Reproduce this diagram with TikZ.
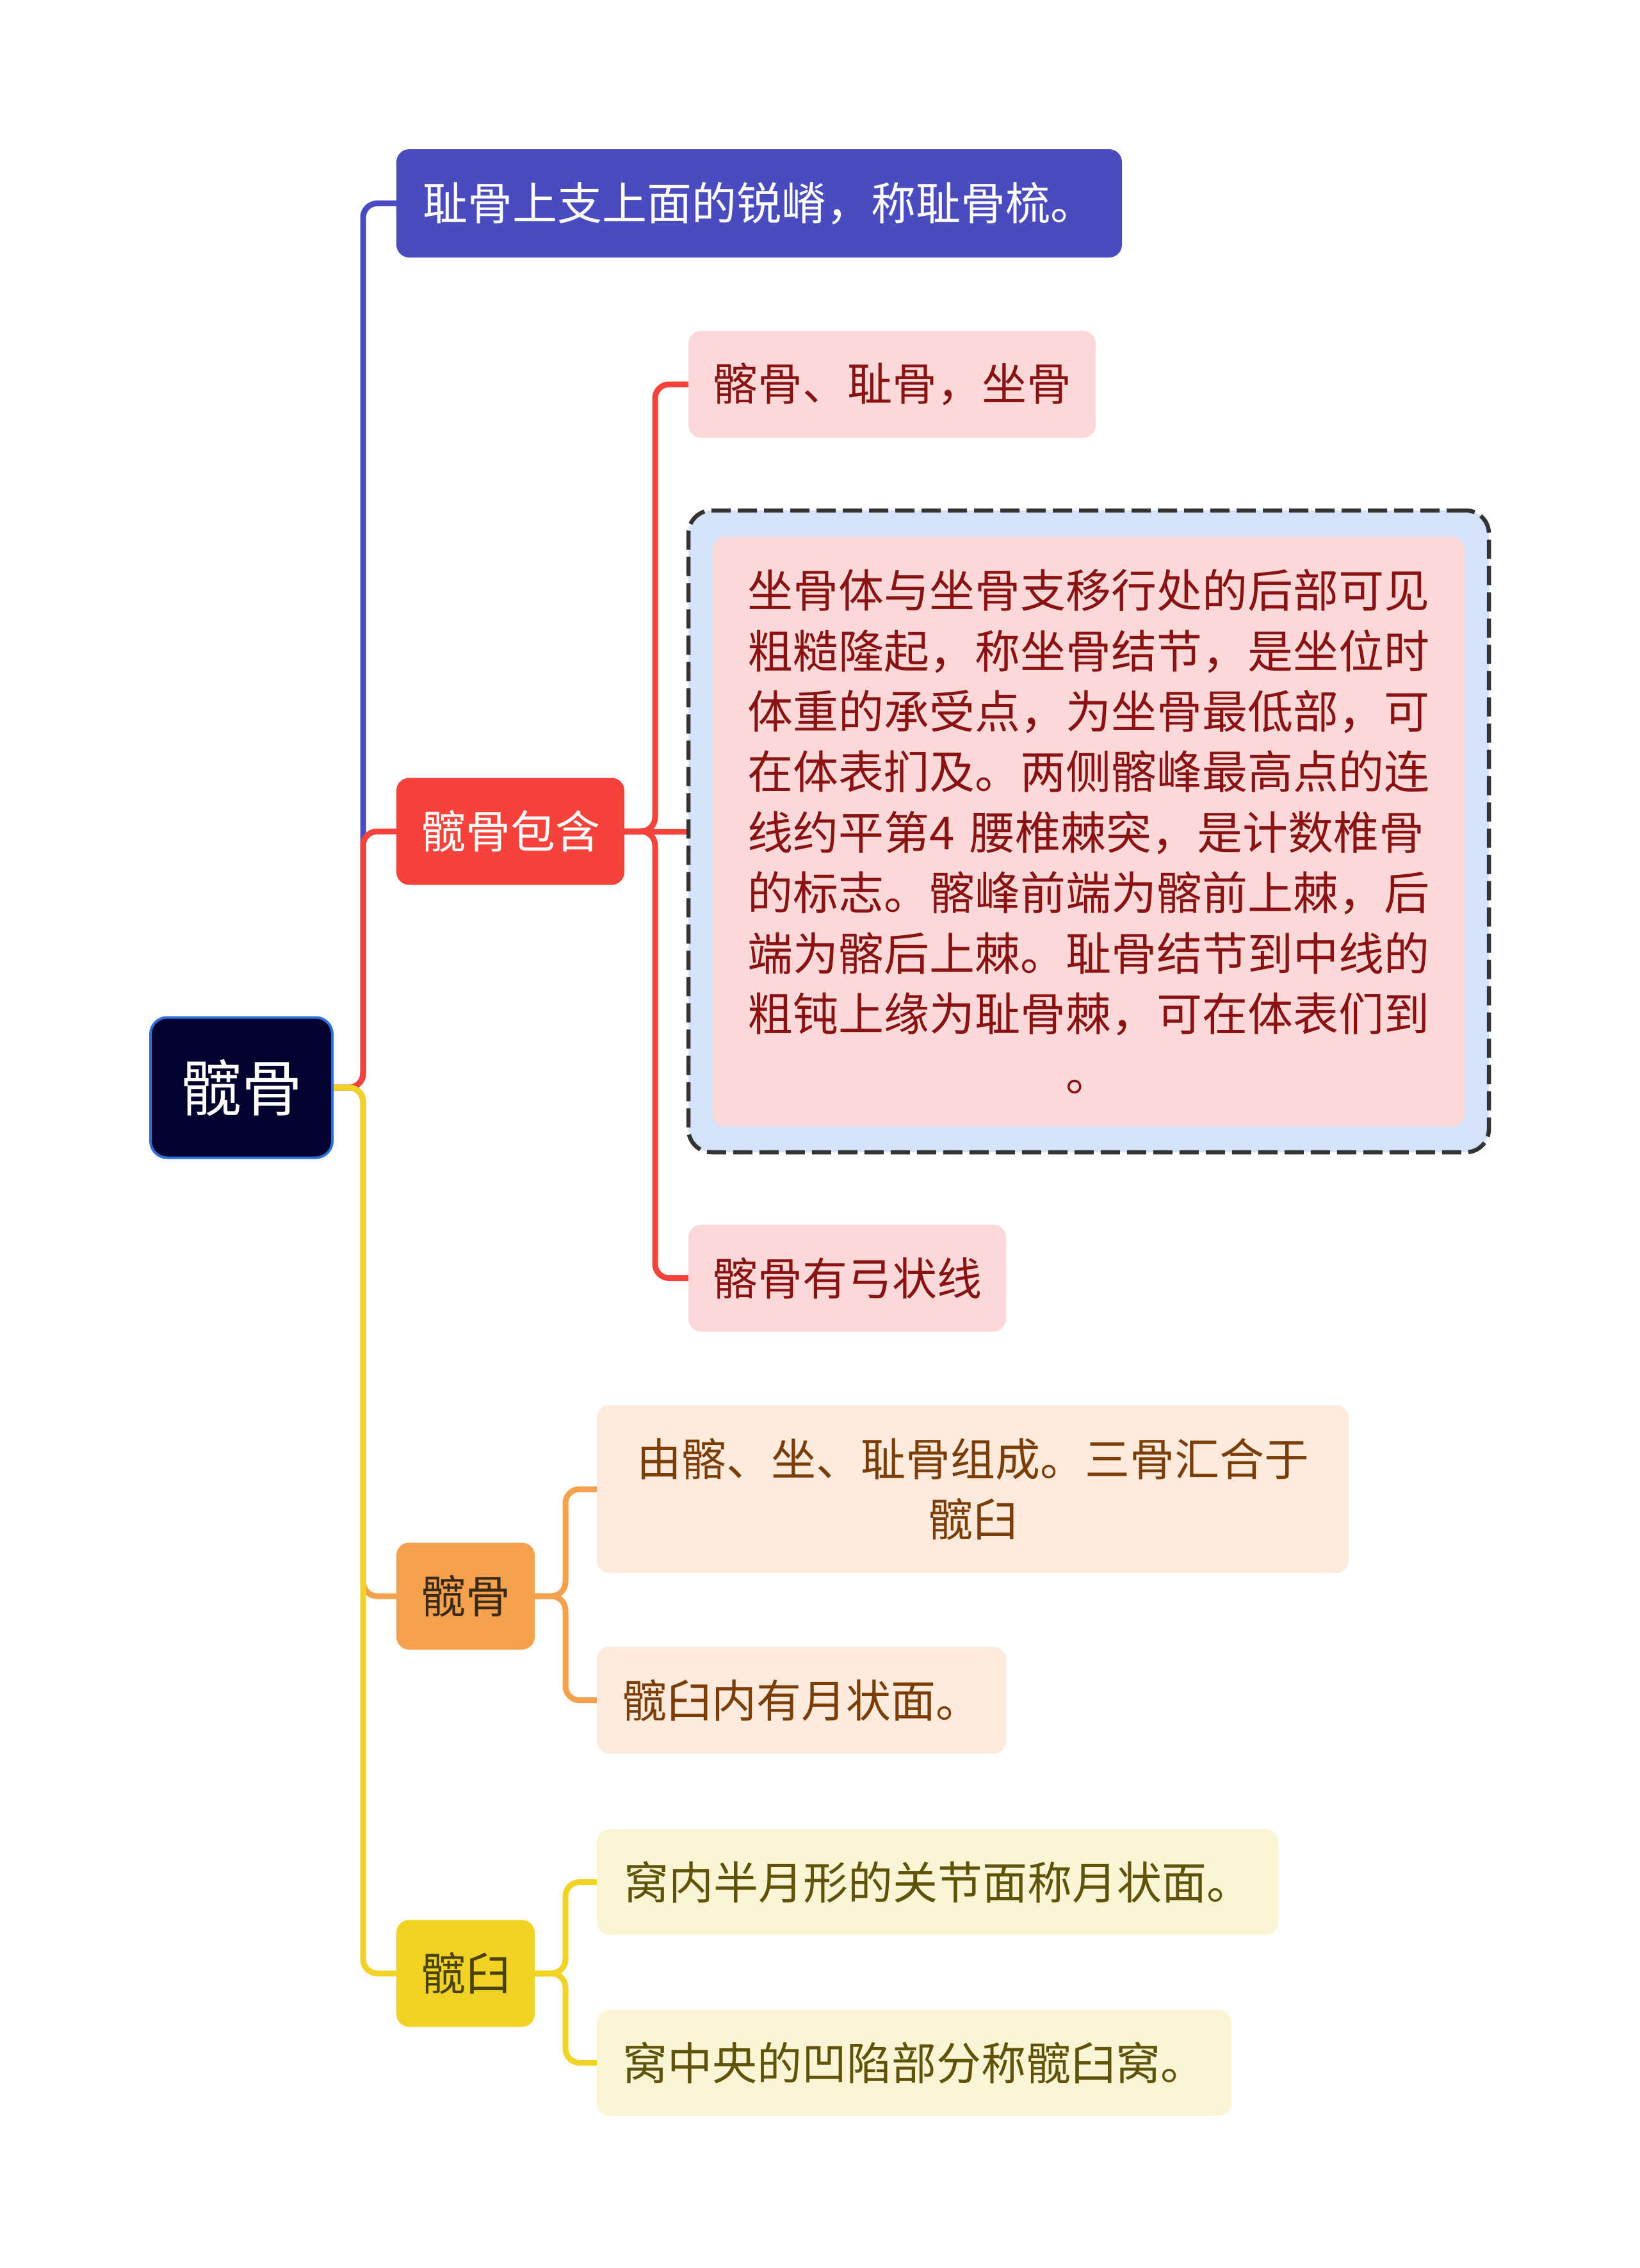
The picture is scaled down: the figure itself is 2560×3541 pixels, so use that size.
\documentclass[tikz,border=0pt]{standalone}
\usepackage{fontspec}
\setmainfont{Noto Sans CJK SC}
\begin{document}
\begin{tikzpicture}[x=1pt,y=-1pt,
  base/.style={rounded corners=20pt,inner sep=0pt,font=\fontsize{70}{94}\selectfont,minimum height=167pt},
  rootbox/.style={base,rounded corners=26pt,fill=rootfill,draw=rootline,line width=4pt,text=white,font=\fontsize{95}{110}\selectfont},
  bluebox/.style={base,fill=bluefill,text=white},
  redbox/.style={base,fill=redfill,text=white},
  orgbox/.style={base,fill=orgfill,text=orgtext},
  yelbox/.style={base,fill=yelfill,text=yeltext},
  redleaf/.style={base,fill=redleaffill,text=redleaftext},
  orgleaf/.style={base,fill=orgleaffill,text=orgleaftext},
  yelleaf/.style={base,fill=yelleaffill,text=yelleaftext},
  link/.style={line width=9pt,rounded corners=22pt},
]
\definecolor{rootfill}{HTML}{02022E}
\definecolor{rootline}{HTML}{2F6FDA}
\definecolor{bluefill}{HTML}{4B4BC0}
\definecolor{redfill}{HTML}{F5433B}
\definecolor{orgfill}{HTML}{F5A04C}
\definecolor{orgtext}{HTML}{3A2A18}
\definecolor{yelfill}{HTML}{F0D324}
\definecolor{yeltext}{HTML}{4A4208}
\definecolor{redleaffill}{HTML}{FCD9D9}
\definecolor{redleaftext}{HTML}{8A1212}
\definecolor{orgleaffill}{HTML}{FCEBDC}
\definecolor{orgleaftext}{HTML}{7C3E08}
\definecolor{yelleaffill}{HTML}{FCF5D5}
\definecolor{yelleaftext}{HTML}{5E5308}
\definecolor{dashfill}{HTML}{D5E3FA}
\definecolor{dashline}{HTML}{333333}

\useasboundingbox[fill=white] (0,0) rectangle (2560,3541);

% nodes
\node[rootbox,minimum width=284pt,minimum height=219pt] (root) at (377,1698) {髋骨};
\node[bluebox,minimum width=1133pt,minimum height=169pt] (b1) at (1185.5,317.5) {耻骨上支上面的锐嵴，称耻骨梳。};
\node[redbox,minimum width=356pt] (r) at (797,1298) {髋骨包含};
\node[orgbox,minimum width=216pt] (o) at (727,2492) {髋骨};
\node[yelbox,minimum width=216pt] (yy) at (727,3081) {髋臼};

\node[redleaf,minimum width=636pt] (r1) at (1393,600) {髂骨、耻骨，坐骨};
\node[draw=dashline,fill=dashfill,line width=6.5pt,dash pattern=on 30pt off 11pt,rounded corners=36pt,minimum width=1250pt,minimum height=1002pt,inner sep=0pt] (d) at (1700,1298) {};
\node[redleaf,minimum width=1174pt,minimum height=921pt,text width=1066pt,align=left,font=\fontsize{71}{94.4}\selectfont] (dt) at (1700,1298.5) {坐骨体与坐骨支移行处的后部可见\\粗糙隆起，称坐骨结节，是坐位时\\体重的承受点，为坐骨最低部，可\\在体表扪及。两侧髂峰最高点的连\\线约平第4 腰椎棘突，是计数椎骨\\的标志。髂峰前端为髂前上棘，后\\端为髂后上棘。耻骨结节到中线的\\粗钝上缘为耻骨棘，可在体表们到\\\hbox to 1066pt{\hss 。\hss}};
\node[redleaf,minimum width=496pt] (r3) at (1323,1995.5) {髂骨有弓状线};

\node[orgleaf,minimum width=1174pt,minimum height=262pt,align=center] (o1) at (1519,2325) {由髂、坐、耻骨组成。三骨汇合于\\髋臼};
\node[orgleaf,minimum width=639pt] (o2) at (1251.5,2654.5) {髋臼内有月状面。};
\node[yelleaf,minimum width=1064pt,minimum height=165pt] (y1) at (1464,2938.5) {窝内半月形的关节面称月状面。};
\node[yelleaf,minimum width=991pt,minimum height=165pt] (y2) at (1427.5,3220.5) {窝中央的凹陷部分称髋臼窝。};

% connectors from root
\draw[link,draw=bluefill] (root.east) -- (567,1698) -- (567,317.5) -- (b1.west);
\draw[link,draw=redfill] (root.east) -- (567,1698) -- (567,1298) -- (r.west);
\draw[link,draw=orgfill] (root.east) -- (567,1698) -- (567,2492) -- (o.west);
\draw[link,draw=yelfill] (root.east) -- (567,1698) -- (567,3081) -- (yy.west);

% red children
\draw[link,draw=redfill] (r.east) -- (1023,1298) -- (1023,600) -- (r1.west);
\draw[link,draw=redfill] (r.east) -- (d.west);
\draw[link,draw=redfill] (r.east) -- (1023,1298) -- (1023,1995.5) -- (r3.west);

% orange children
\draw[link,draw=orgfill] (o.east) -- (883,2492) -- (883,2325) -- (o1.west);
\draw[link,draw=orgfill] (o.east) -- (883,2492) -- (883,2654.5) -- (o2.west);

% yellow children
\draw[link,draw=yelfill] (yy.east) -- (883,3081) -- (883,2938.5) -- (y1.west);
\draw[link,draw=yelfill] (yy.east) -- (883,3081) -- (883,3220.5) -- (y2.west);
\end{tikzpicture}
\end{document}
